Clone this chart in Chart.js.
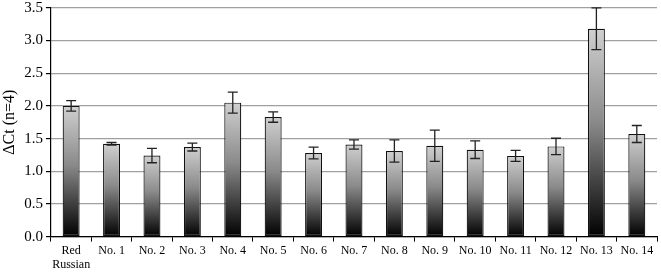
<!DOCTYPE html>
<html>
<head>
<meta charset="UTF-8">
<script src="https://cdn.jsdelivr.net/npm/chart.js"></script>
<style>
  body { margin: 0; background: #fff; }
  #wrap { width: 661px; height: 273px; }
</style>
</head>
<body>
<div id="wrap"><canvas id="myChart"></canvas></div>
<script>
const labels = [['Red', 'Russian'], 'No. 1', 'No. 2', 'No. 3', 'No. 4', 'No. 5', 'No. 6', 'No. 7',
  'No. 8', 'No. 9', 'No. 10', 'No. 11', 'No. 12', 'No. 13', 'No. 14'];
const values = [2.0, 1.42, 1.24, 1.37, 2.05, 1.83, 1.28, 1.41, 1.31, 1.39, 1.33, 1.235, 1.38, 3.18, 1.57];
const errors = [0.08, 0.02, 0.11, 0.06, 0.16, 0.08, 0.09, 0.07, 0.17, 0.24, 0.135, 0.085, 0.125, 0.32, 0.13];
const yTicks = [0, 0.5, 1.0, 1.5, 2.0, 2.5, 3.0, 3.5];

// gradient per bar: light gray on top, black at the base
const barFill = (ctx) => {
  const chart = ctx.chart;
  if (!chart.chartArea || ctx.type !== 'data') return '#888';
  const y = chart.scales.y;
  const top = y.getPixelForValue(values[ctx.dataIndex]);
  const base = y.getPixelForValue(0);
  const g = chart.ctx.createLinearGradient(0, top, 0, base);
  g.addColorStop(0, '#d0d0d0');
  g.addColorStop(0.45, '#8a8a8a');
  g.addColorStop(1, '#000000');
  return g;
};

const errorBars = {
  id: 'errorBars',
  afterDatasetsDraw(chart) {
    const { ctx, scales: { x, y } } = chart;
    ctx.save();
    ctx.strokeStyle = '#222';
    ctx.lineWidth = 1.3;
    values.forEach((v, i) => {
      const px = x.getPixelForValue(i);
      const hi = y.getPixelForValue(v + errors[i]);
      const lo = y.getPixelForValue(v - errors[i]);
      ctx.beginPath();
      ctx.moveTo(px, hi); ctx.lineTo(px, lo);
      ctx.moveTo(px - 5, hi); ctx.lineTo(px + 5, hi);
      ctx.moveTo(px - 5, lo); ctx.lineTo(px + 5, lo);
      ctx.stroke();
    });
    ctx.restore();
  }
};

new Chart(document.getElementById('myChart'), {
  type: 'bar',
  data: {
    labels: labels,
    datasets: [{
      data: values,
      backgroundColor: barFill,
      borderColor: '#111',
      borderWidth: 1.2,
      borderSkipped: false,
      barPercentage: 0.42,
      categoryPercentage: 1.0
    }]
  },
  options: {
    responsive: true,
    maintainAspectRatio: false,
    animation: false,
    layout: { padding: { top: 0, right: 4, left: 0, bottom: -1 } },
    plugins: { legend: { display: false }, tooltip: { enabled: false } },
    scales: {
      x: {
        grid: { offset: true, drawOnChartArea: false, drawTicks: true, tickLength: 5, color: '#000' },
        border: { color: '#000', width: 1.2 },
        ticks: { color: '#000', font: { family: 'Liberation Serif', size: 12, lineHeight: 1.1 }, maxRotation: 0, autoSkip: false, padding: 3 }
      },
      y: {
        min: 0,
        max: 3.5,
        afterBuildTicks: (axis) => { axis.ticks = yTicks.map(v => ({ value: v })); },
        grid: { color: '#a0a0a0', lineWidth: 1.2, tickLength: 5, tickColor: '#000' },
        border: { color: '#000', width: 1.2 },
        ticks: {
          color: '#000',
          font: { family: 'Liberation Serif', size: 15, lineHeight: 0.65 },
          padding: 3,
          callback: (v) => Number(v).toFixed(1)
        },
        title: {
          display: true,
          text: 'ΔCt (n=4)',
          color: '#000',
          font: { family: 'Liberation Serif', size: 16 },
          padding: { top: 0, bottom: 2 }
        }
      }
    }
  },
  plugins: [errorBars]
});
</script>
</body>
</html>
